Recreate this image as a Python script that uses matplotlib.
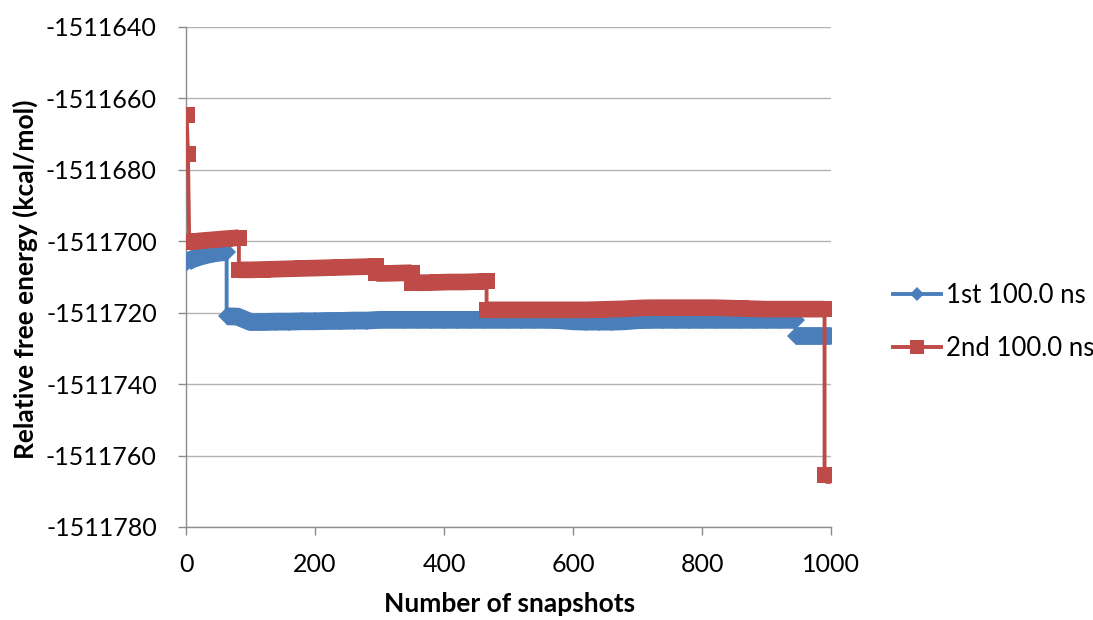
import matplotlib
matplotlib.use("Agg")
import matplotlib.pyplot as plt

# ---- data ----
series1_name = "1st 100.0 ns"
series2_name = "2nd 100.0 ns"

blue_x = [1, 10, 20, 30, 40, 50, 63, 63, 80, 100, 120, 140, 160, 180, 200, 220, 240, 260,
          280, 300, 320, 340, 360, 380, 400, 420, 440, 460, 480, 500, 520, 540, 560, 580,
          600, 620, 640, 660, 680, 700, 720, 740, 760, 780, 800, 820, 840, 860, 880, 900,
          920, 945, 945, 960, 980, 1000]
blue_y = [-1511705.8, -1511705.0, -1511704.4, -1511703.9, -1511703.5, -1511703.2,
          -1511703.0, -1511721.0, -1511721.1, -1511722.6, -1511722.6, -1511722.5,
          -1511722.5, -1511722.4, -1511722.4, -1511722.3, -1511722.3, -1511722.2,
          -1511722.2, -1511722.0, -1511722.0, -1511722.0, -1511722.0, -1511722.0,
          -1511722.0, -1511722.0, -1511722.0, -1511722.0, -1511722.0, -1511722.0,
          -1511722.0, -1511722.0, -1511722.0, -1511722.1, -1511722.4, -1511722.5,
          -1511722.5, -1511722.5, -1511722.4, -1511722.1, -1511722.0, -1511722.0,
          -1511722.0, -1511722.0, -1511722.0, -1511722.0, -1511722.0, -1511722.0,
          -1511722.0, -1511722.0, -1511722.0, -1511722.0, -1511726.5, -1511726.5,
          -1511726.5, -1511726.5]

red_x = [1, 3, 5, 20, 40, 60, 82, 82, 100, 120, 140, 160, 180, 200, 220, 240, 260, 280,
         295, 295, 310, 330, 350, 350, 370, 390, 410, 430, 450, 466, 466, 480, 500, 520,
         540, 560, 580, 600, 620, 640, 660, 680, 700, 720, 740, 760, 780, 800, 820, 840,
         860, 880, 900, 920, 940, 960, 980, 990, 990, 1000]
red_y = [-1511664.5, -1511675.5, -1511700.2, -1511699.9, -1511699.6, -1511699.3,
         -1511699.0, -1511708.0, -1511708.0, -1511707.9, -1511707.8, -1511707.7,
         -1511707.6, -1511707.5, -1511707.4, -1511707.3, -1511707.2, -1511707.1,
         -1511707.0, -1511709.0, -1511709.0, -1511708.9, -1511708.8, -1511711.6,
         -1511711.6, -1511711.5, -1511711.4, -1511711.4, -1511711.3, -1511711.2,
         -1511719.2, -1511719.2, -1511719.2, -1511719.2, -1511719.2, -1511719.2,
         -1511719.2, -1511719.2, -1511719.2, -1511719.1, -1511719.0, -1511718.9,
         -1511718.7, -1511718.6, -1511718.6, -1511718.6, -1511718.6, -1511718.6,
         -1511718.6, -1511718.7, -1511718.8, -1511718.9, -1511719.0, -1511719.0,
         -1511719.0, -1511719.0, -1511719.0, -1511719.0, -1511765.5, -1511765.5]

x_ticks = [0, 200, 400, 600, 800, 1000]
y_ticks = [-1511780, -1511760, -1511740, -1511720, -1511700, -1511680, -1511660, -1511640]

x_label = "Number of snapshots"
y_label = "Relative free energy (kcal/mol)"

# ---- style ----
plt.rcParams['font.family'] = ['Lato', 'DejaVu Sans']
BLUE = "#4a7ebb"
RED = "#be4b48"


def runs(xs, ys, jump=5.0):
    """Split a series into runs of consecutive points without a jump."""
    out, cur = [], [0]
    for i in range(1, len(xs)):
        if xs[i] == xs[i - 1] or abs(ys[i] - ys[i - 1]) > jump:
            out.append(cur)
            cur = [i]
        else:
            cur.append(i)
    out.append(cur)
    return out


def draw_series(ax, xs, ys, color, marker, ms, band, label, z):
    # dense, overlapping markers in the original form a solid strip
    for r in runs(xs, ys):
        if len(r) > 1:
            ax.plot([xs[i] for i in r], [ys[i] for i in r], color=color, lw=band,
                    solid_capstyle='butt', solid_joinstyle='round', zorder=z)
    ax.plot(xs, ys, color=color, lw=2.8, marker=marker, markersize=ms,
            markeredgecolor=color, markerfacecolor=color, markeredgewidth=0,
            label=label, zorder=z, solid_joinstyle='miter')


fig = plt.figure(figsize=(10.93, 6.2), dpi=100)
ax = fig.add_axes([186 / 1093, (620 - 527) / 620, (831 - 186) / 1093, 500 / 620])

draw_series(ax, blue_x, blue_y, BLUE, 'D', 9.2, 12.8, series1_name, 3)
draw_series(ax, red_x, red_y, RED, 's', 12.0, 12.0, series2_name, 4)

ax.set_xlim(0, 1000)
ax.set_ylim(-1511780, -1511640)
ax.set_xticks(x_ticks)
ax.set_yticks(y_ticks)
ax.set_yticklabels([str(v) for v in y_ticks])
ax.set_xticklabels([str(v) for v in x_ticks])

ax.grid(axis='y', color='#b3b3b3', lw=1.0)
ax.set_axisbelow(True)
for s in ['top', 'right']:
    ax.spines[s].set_visible(False)
for s in ['left', 'bottom']:
    ax.spines[s].set_color('#8c8c8c')
    ax.spines[s].set_linewidth(1.0)
ax.tick_params(axis='both', direction='out', length=6, width=1.0, color='#8c8c8c',
               labelsize=18, labelcolor='black')
ax.tick_params(axis='y', pad=15)
ax.tick_params(axis='x', pad=13)

ax.set_xlabel(x_label, fontsize=19, fontweight='bold')
ax.set_ylabel(y_label, fontsize=19, fontweight='bold')
ax.xaxis.set_label_coords(0.502, -0.131)
ax.yaxis.set_label_coords(-0.229, 0.496)

fig.legend(loc='center left', bbox_to_anchor=(893 / 1093, 1 - 322 / 620), frameon=False,
           fontsize=18.5, handlelength=1.85, handletextpad=0.2, labelspacing=1.1,
           borderaxespad=0, borderpad=0, markerscale=0.8)

fig.savefig("out.png", dpi=100)
